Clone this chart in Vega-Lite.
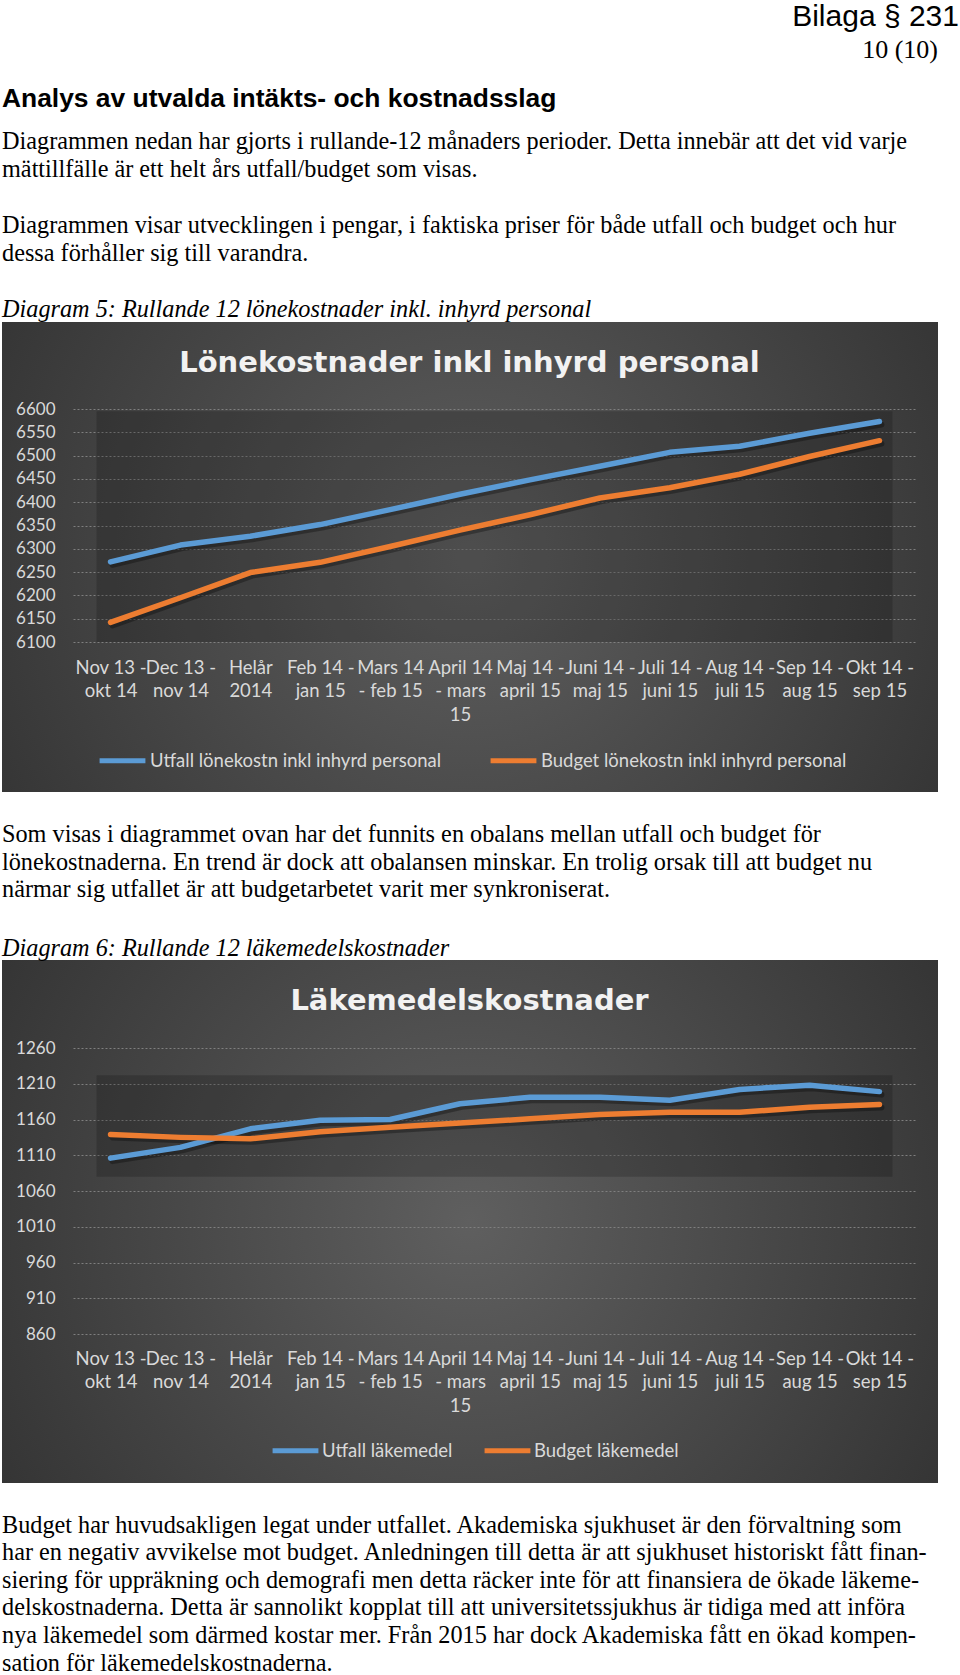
{
  "$schema": "https://vega.github.io/schema/vega-lite/v6.json",
  "padding": {"left": 2, "top": 2, "right": 0, "bottom": 0},
  "background": "white",
  "config": {"view": {"stroke": null}, "concat": {"spacing": 0}},
  "spacing": 0,
  "bounds": "flush",
  "datasets": {
    "lon": [
      {"period": "Nov 13 - okt 14", "serie": "Utfall lönekostn inkl inhyrd personal", "value": 6272},
      {"period": "Dec 13 - nov 14", "serie": "Utfall lönekostn inkl inhyrd personal", "value": 6308},
      {"period": "Helår 2014", "serie": "Utfall lönekostn inkl inhyrd personal", "value": 6327},
      {"period": "Feb 14 - jan 15", "serie": "Utfall lönekostn inkl inhyrd personal", "value": 6352},
      {"period": "Mars 14 - feb 15", "serie": "Utfall lönekostn inkl inhyrd personal", "value": 6384},
      {"period": "April 14 - mars 15", "serie": "Utfall lönekostn inkl inhyrd personal", "value": 6417},
      {"period": "Maj 14 - april 15", "serie": "Utfall lönekostn inkl inhyrd personal", "value": 6448},
      {"period": "Juni 14 - maj 15", "serie": "Utfall lönekostn inkl inhyrd personal", "value": 6477},
      {"period": "Juli 14 - juni 15", "serie": "Utfall lönekostn inkl inhyrd personal", "value": 6507},
      {"period": "Aug 14 - juli 15", "serie": "Utfall lönekostn inkl inhyrd personal", "value": 6520},
      {"period": "Sep 14 - aug 15", "serie": "Utfall lönekostn inkl inhyrd personal", "value": 6548},
      {"period": "Okt 14 - sep 15", "serie": "Utfall lönekostn inkl inhyrd personal", "value": 6573},
      {"period": "Nov 13 - okt 14", "serie": "Budget lönekostn inkl inhyrd personal", "value": 6142},
      {"period": "Dec 13 - nov 14", "serie": "Budget lönekostn inkl inhyrd personal", "value": 6195},
      {"period": "Helår 2014", "serie": "Budget lönekostn inkl inhyrd personal", "value": 6249},
      {"period": "Feb 14 - jan 15", "serie": "Budget lönekostn inkl inhyrd personal", "value": 6271},
      {"period": "Mars 14 - feb 15", "serie": "Budget lönekostn inkl inhyrd personal", "value": 6305},
      {"period": "April 14 - mars 15", "serie": "Budget lönekostn inkl inhyrd personal", "value": 6340},
      {"period": "Maj 14 - april 15", "serie": "Budget lönekostn inkl inhyrd personal", "value": 6373},
      {"period": "Juni 14 - maj 15", "serie": "Budget lönekostn inkl inhyrd personal", "value": 6409},
      {"period": "Juli 14 - juni 15", "serie": "Budget lönekostn inkl inhyrd personal", "value": 6431},
      {"period": "Aug 14 - juli 15", "serie": "Budget lönekostn inkl inhyrd personal", "value": 6460},
      {"period": "Sep 14 - aug 15", "serie": "Budget lönekostn inkl inhyrd personal", "value": 6498},
      {"period": "Okt 14 - sep 15", "serie": "Budget lönekostn inkl inhyrd personal", "value": 6532}
    ],
    "lak": [
      {"period": "Nov 13 - okt 14", "serie": "Utfall läkemedel", "value": 1106},
      {"period": "Dec 13 - nov 14", "serie": "Utfall läkemedel", "value": 1121},
      {"period": "Helår 2014", "serie": "Utfall läkemedel", "value": 1147},
      {"period": "Feb 14 - jan 15", "serie": "Utfall läkemedel", "value": 1159},
      {"period": "Mars 14 - feb 15", "serie": "Utfall läkemedel", "value": 1160},
      {"period": "April 14 - mars 15", "serie": "Utfall läkemedel", "value": 1182},
      {"period": "Maj 14 - april 15", "serie": "Utfall läkemedel", "value": 1191},
      {"period": "Juni 14 - maj 15", "serie": "Utfall läkemedel", "value": 1191},
      {"period": "Juli 14 - juni 15", "serie": "Utfall läkemedel", "value": 1187},
      {"period": "Aug 14 - juli 15", "serie": "Utfall läkemedel", "value": 1202},
      {"period": "Sep 14 - aug 15", "serie": "Utfall läkemedel", "value": 1208},
      {"period": "Okt 14 - sep 15", "serie": "Utfall läkemedel", "value": 1199},
      {"period": "Nov 13 - okt 14", "serie": "Budget läkemedel", "value": 1139},
      {"period": "Dec 13 - nov 14", "serie": "Budget läkemedel", "value": 1135},
      {"period": "Helår 2014", "serie": "Budget läkemedel", "value": 1133},
      {"period": "Feb 14 - jan 15", "serie": "Budget läkemedel", "value": 1143},
      {"period": "Mars 14 - feb 15", "serie": "Budget läkemedel", "value": 1149},
      {"period": "April 14 - mars 15", "serie": "Budget läkemedel", "value": 1155},
      {"period": "Maj 14 - april 15", "serie": "Budget läkemedel", "value": 1161},
      {"period": "Juni 14 - maj 15", "serie": "Budget läkemedel", "value": 1167},
      {"period": "Juli 14 - juni 15", "serie": "Budget läkemedel", "value": 1170},
      {"period": "Aug 14 - juli 15", "serie": "Budget läkemedel", "value": 1170},
      {"period": "Sep 14 - aug 15", "serie": "Budget läkemedel", "value": 1177},
      {"period": "Okt 14 - sep 15", "serie": "Budget läkemedel", "value": 1181}
    ]
  },
  "vconcat": [
    {
      "width": 936, "height": 1,
      "data": {"values": [{}]},
      "mark": "text",
      "encoding": {"text": {"value": ""}},
      "title": {"text": "Bilaga § 231", "anchor": "end", "frame": "group", "font": "Liberation Sans", "fontSize": 30, "fontWeight": "normal", "color": "#000000", "offset": 280.5, "dx": 21}
    },
    {
      "width": 936, "height": 1,
      "data": {"values": [{}]},
      "mark": "text",
      "encoding": {"text": {"value": ""}},
      "title": {"text": "10 (10)", "anchor": "end", "frame": "group", "font": "Liberation Serif", "fontSize": 26, "fontWeight": "normal", "color": "#000000", "offset": 250.5}
    },
    {
      "width": 936, "height": 1,
      "data": {"values": [{}]},
      "mark": "text",
      "encoding": {"text": {"value": ""}},
      "title": {
        "text": "Analys av utvalda intäkts- och kostnadsslag",
        "subtitle": [
          "Diagrammen nedan har gjorts i rullande-12 månaders perioder. Detta innebär att det vid varje",
          "mättillfälle är ett helt års utfall/budget som visas."
        ],
        "anchor": "start", "frame": "group",
        "font": "Liberation Sans", "fontSize": 26.4, "fontWeight": "bold", "color": "#000000",
        "subtitleFont": "Liberation Serif", "subtitleFontSize": 24.25, "subtitleColor": "#000000", "subtitleLineHeight": 27.5, "subtitlePadding": 18,
        "offset": 132.5
      }
    },
    {
      "width": 936, "height": 1,
      "data": {"values": [{}]},
      "mark": "text",
      "encoding": {"text": {"value": ""}},
      "title": {
        "text": [
          "Diagrammen visar utvecklingen i pengar, i faktiska priser för både utfall och budget och hur",
          "dessa förhåller sig till varandra."
        ],
        "anchor": "start", "frame": "group",
        "font": "Liberation Serif", "fontSize": 24.25, "fontWeight": "normal", "color": "#000000", "lineHeight": 28.5,
        "offset": 49.2
      }
    },
    {
      "width": 936, "height": 470,
      "view": {"stroke": null, "fill": {"gradient": "radial", "x1": 0.5, "y1": 0.5, "x2": 0.5, "y2": 0.5, "r1": 0, "r2": 0.72, "stops": [{"offset": 0, "color": "#5f5f5f"}, {"offset": 1, "color": "#2a2a2a"}]}},
      "title": {"text": "Diagram 5: Rullande 12 lönekostnader inkl. inhyrd personal", "anchor": "start", "frame": "group", "font": "Liberation Serif", "fontSize": 24.25, "fontStyle": "italic", "fontWeight": "normal", "color": "#000000", "offset": 0},
      "layer": [
        {
          "data": {"values": [{}]},
          "mark": {"type": "rect", "color": "#000000", "opacity": 0.18, "xOffset": -14, "x2Offset": 13},
          "encoding": {
            "x": {"datum": "Nov 13 - okt 14", "type": "nominal", "scale": {"type": "point", "domain": ["Nov 13 - okt 14","Dec 13 - nov 14","Helår 2014","Feb 14 - jan 15","Mars 14 - feb 15","April 14 - mars 15","Maj 14 - april 15","Juni 14 - maj 15","Juli 14 - juni 15","Aug 14 - juli 15","Sep 14 - aug 15","Okt 14 - sep 15"], "range": [71, 915], "padding": 0.537}},
            "x2": {"datum": "Okt 14 - sep 15"},
            "y": {"datum": 6595, "type": "quantitative", "scale": {"domain": [6100, 6600], "range": [320, 87], "zero": false, "nice": false}},
            "y2": {"datum": 6100}
          }
        },
        {
          "data": {"name": "lon"},
          "mark": {"type": "line", "color": "#000000", "opacity": 0.3, "strokeWidth": 6, "xOffset": 2, "yOffset": 3, "strokeCap": "round", "strokeJoin": "round"},
          "encoding": {
            "x": {"field": "period", "type": "nominal", "scale": {"type": "point", "domain": ["Nov 13 - okt 14","Dec 13 - nov 14","Helår 2014","Feb 14 - jan 15","Mars 14 - feb 15","April 14 - mars 15","Maj 14 - april 15","Juni 14 - maj 15","Juli 14 - juni 15","Aug 14 - juli 15","Sep 14 - aug 15","Okt 14 - sep 15"], "range": [71, 915], "padding": 0.537}},
            "y": {"field": "value", "type": "quantitative", "scale": {"domain": [6100, 6600], "range": [320, 87], "zero": false, "nice": false}},
            "detail": {"field": "serie"}
          }
        },
        {
          "data": {"name": "lon"},
          "mark": {"type": "line", "strokeWidth": 5.5, "strokeCap": "round", "strokeJoin": "round"},
          "encoding": {
            "x": {"field": "period", "type": "nominal",
              "scale": {"type": "point", "domain": ["Nov 13 - okt 14","Dec 13 - nov 14","Helår 2014","Feb 14 - jan 15","Mars 14 - feb 15","April 14 - mars 15","Maj 14 - april 15","Juni 14 - maj 15","Juli 14 - juni 15","Aug 14 - juli 15","Sep 14 - aug 15","Okt 14 - sep 15"], "range": [71, 915], "padding": 0.537},
              "axis": {"orient": "bottom", "offset": -134, "ticks": false, "tickSize": 0, "domain": false, "grid": false, "labelAngle": 0, "labelAlign": "center", "labelFont": "Lato", "labelFontSize": 18.5, "labelColor": "#d9d9d9", "labelBaseline": "top", "labelLineHeight": 23.5, "labelPadding": 0, "labelLimit": 0, "labelOverlap": false, "title": null,
                "labelExpr": "datum.label == 'Helår 2014' ? ['Helår', '2014'] : datum.label == 'Mars 14 - feb 15' ? ['Mars 14', '- feb 15'] : datum.label == 'April 14 - mars 15' ? ['April 14', '- mars', '15'] : [split(datum.label, ' - ')[0] + ' -', split(datum.label, ' - ')[1]]"}
            },
            "y": {"field": "value", "type": "quantitative",
              "scale": {"domain": [6100, 6600], "range": [320, 87], "zero": false, "nice": false},
              "axis": {"orient": "left", "offset": -55, "ticks": false, "domain": false, "values": [6100, 6150, 6200, 6250, 6300, 6350, 6400, 6450, 6500, 6550, 6600], "format": "d", "labelFont": "Lato", "labelFontSize": 17, "labelColor": "#d9d9d9", "labelPadding": 2, "grid": true, "gridColor": "#7f7f7f", "gridDash": [2, 2], "gridWidth": 1,
                "title": "Lönekostnader inkl inhyrd personal", "titleAngle": 0, "titleX": 412, "titleY": 40.3, "titleAlign": "center", "titleBaseline": "middle", "titleFont": "DejaVu Sans", "titleFontSize": 29, "titleFontWeight": "bold", "titleColor": "#f2f2f2"}
            },
            "color": {"field": "serie", "type": "nominal",
              "scale": {"domain": ["Utfall lönekostn inkl inhyrd personal", "Budget lönekostn inkl inhyrd personal"], "range": ["#5b9bd5", "#ed7d31"]},
              "legend": {"orient": "none", "legendX": 95, "legendY": 413, "direction": "horizontal", "title": null, "symbolType": "stroke", "symbolSize": 2100, "symbolStrokeWidth": 5, "labelFont": "Lato", "labelFontSize": 18.5, "labelColor": "#d9d9d9", "columnPadding": 38, "labelOffset": 2, "padding": 0, "labelLimit": 0}
            }
          }
        }
      ]
    },
    {
      "width": 936, "height": 168,
      "data": {"values": [{}]},
      "mark": "text",
      "encoding": {"text": {"value": ""}}
    },
    {
      "width": 936, "height": 523,
      "view": {"stroke": null, "fill": {"gradient": "radial", "x1": 0.5, "y1": 0.5, "x2": 0.5, "y2": 0.5, "r1": 0, "r2": 0.72, "stops": [{"offset": 0, "color": "#5f5f5f"}, {"offset": 1, "color": "#2a2a2a"}]}},
      "title": {
        "text": [
          "Som visas i diagrammet ovan har det funnits en obalans mellan utfall och budget för",
          "lönekostnaderna. En trend är dock att obalansen minskar. En trolig orsak till att budget nu",
          "närmar sig utfallet är att budgetarbetet varit mer synkroniserat."
        ],
        "subtitle": "Diagram 6: Rullande 12 läkemedelskostnader",
        "anchor": "start", "frame": "group",
        "font": "Liberation Serif", "fontSize": 24.25, "fontWeight": "normal", "color": "#000000", "lineHeight": 27.7,
        "subtitleFont": "Liberation Serif", "subtitleFontSize": 24.25, "subtitleFontStyle": "italic", "subtitleColor": "#000000", "subtitlePadding": 34,
        "offset": -1
      },
      "layer": [
        {
          "data": {"values": [{}]},
          "mark": {"type": "rect", "color": "#000000", "opacity": 0.18, "xOffset": -14, "x2Offset": 13},
          "encoding": {
            "x": {"datum": "Nov 13 - okt 14", "type": "nominal", "scale": {"type": "point", "domain": ["Nov 13 - okt 14","Dec 13 - nov 14","Helår 2014","Feb 14 - jan 15","Mars 14 - feb 15","April 14 - mars 15","Maj 14 - april 15","Juni 14 - maj 15","Juli 14 - juni 15","Aug 14 - juli 15","Sep 14 - aug 15","Okt 14 - sep 15"], "range": [71, 915], "padding": 0.537}},
            "x2": {"datum": "Okt 14 - sep 15"},
            "y": {"datum": 1222, "type": "quantitative", "scale": {"domain": [860, 1260], "range": [374, 88], "zero": false, "nice": false}},
            "y2": {"datum": 1080}
          }
        },
        {
          "data": {"name": "lak"},
          "mark": {"type": "line", "color": "#000000", "opacity": 0.3, "strokeWidth": 6, "xOffset": 2, "yOffset": 3, "strokeCap": "round", "strokeJoin": "round"},
          "encoding": {
            "x": {"field": "period", "type": "nominal", "scale": {"type": "point", "domain": ["Nov 13 - okt 14","Dec 13 - nov 14","Helår 2014","Feb 14 - jan 15","Mars 14 - feb 15","April 14 - mars 15","Maj 14 - april 15","Juni 14 - maj 15","Juli 14 - juni 15","Aug 14 - juli 15","Sep 14 - aug 15","Okt 14 - sep 15"], "range": [71, 915], "padding": 0.537}},
            "y": {"field": "value", "type": "quantitative", "scale": {"domain": [860, 1260], "range": [374, 88], "zero": false, "nice": false}},
            "detail": {"field": "serie"}
          }
        },
        {
          "data": {"name": "lak"},
          "mark": {"type": "line", "strokeWidth": 5.5, "strokeCap": "round", "strokeJoin": "round"},
          "encoding": {
            "x": {"field": "period", "type": "nominal",
              "scale": {"type": "point", "domain": ["Nov 13 - okt 14","Dec 13 - nov 14","Helår 2014","Feb 14 - jan 15","Mars 14 - feb 15","April 14 - mars 15","Maj 14 - april 15","Juni 14 - maj 15","Juli 14 - juni 15","Aug 14 - juli 15","Sep 14 - aug 15","Okt 14 - sep 15"], "range": [71, 915], "padding": 0.537},
              "axis": {"orient": "bottom", "offset": -134, "ticks": false, "tickSize": 0, "domain": false, "grid": false, "labelAngle": 0, "labelAlign": "center", "labelFont": "Lato", "labelFontSize": 18.5, "labelColor": "#d9d9d9", "labelBaseline": "top", "labelLineHeight": 23.5, "labelPadding": 0, "labelLimit": 0, "labelOverlap": false, "title": null,
                "labelExpr": "datum.label == 'Helår 2014' ? ['Helår', '2014'] : datum.label == 'Mars 14 - feb 15' ? ['Mars 14', '- feb 15'] : datum.label == 'April 14 - mars 15' ? ['April 14', '- mars', '15'] : [split(datum.label, ' - ')[0] + ' -', split(datum.label, ' - ')[1]]"}
            },
            "y": {"field": "value", "type": "quantitative",
              "scale": {"domain": [860, 1260], "range": [374, 88], "zero": false, "nice": false},
              "axis": {"orient": "left", "offset": -55, "ticks": false, "domain": false, "values": [860, 910, 960, 1010, 1060, 1110, 1160, 1210, 1260], "format": "d", "labelFont": "Lato", "labelFontSize": 17, "labelColor": "#d9d9d9", "labelPadding": 2, "grid": true, "gridColor": "#7f7f7f", "gridDash": [2, 2], "gridWidth": 1,
                "title": "Läkemedelskostnader", "titleAngle": 0, "titleX": 412, "titleY": 40.4, "titleAlign": "center", "titleBaseline": "middle", "titleFont": "DejaVu Sans", "titleFontSize": 29, "titleFontWeight": "bold", "titleColor": "#f2f2f2"}
            },
            "color": {"field": "serie", "type": "nominal",
              "scale": {"domain": ["Utfall läkemedel", "Budget läkemedel"], "range": ["#5b9bd5", "#ed7d31"]},
              "legend": {"orient": "none", "legendX": 268, "legendY": 465, "direction": "horizontal", "title": null, "symbolType": "stroke", "symbolSize": 2100, "symbolStrokeWidth": 5, "labelFont": "Lato", "labelFontSize": 18.5, "labelColor": "#d9d9d9", "columnPadding": 21, "labelOffset": 1, "padding": 0, "labelLimit": 0}
            }
          }
        }
      ]
    },
    {
      "width": 936, "height": 1,
      "data": {"values": [{}]},
      "mark": "text",
      "encoding": {"text": {"value": ""}},
      "title": {
        "text": [
          "Budget har huvudsakligen legat under utfallet. Akademiska sjukhuset är den förvaltning som",
          "har en negativ avvikelse mot budget. Anledningen till detta är att sjukhuset historiskt fått finan-",
          "siering för uppräkning och demografi men detta räcker inte för att finansiera de ökade läkeme-",
          "delskostnaderna. Detta är sannolikt kopplat till att universitetssjukhus är tidiga med att införa",
          "nya läkemedel som därmed kostar mer. Från 2015 har dock Akademiska fått en ökad kompen-",
          "sation för läkemedelskostnaderna."
        ],
        "orient": "bottom", "anchor": "start", "frame": "group",
        "font": "Liberation Serif", "fontSize": 24.25, "fontWeight": "normal", "color": "#000000", "lineHeight": 27.6,
        "offset": 25
      }
    }
  ],
  "resolve": {"scale": {"color": "independent"}}
}
